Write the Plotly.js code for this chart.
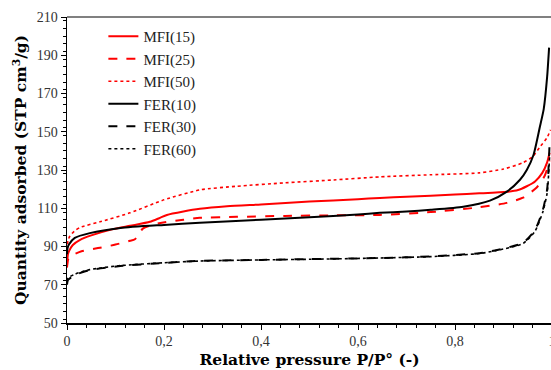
<!DOCTYPE html>
<html>
<head>
<meta charset="utf-8">
<script src="https://cdn.plot.ly/plotly-3.0.1.min.js"></script>
<style>html,body{margin:0;padding:0;overflow:hidden;background:#fff;}#chart{width:570px;height:370px;}</style>
</head>
<body>
<div id="chart"></div>
<script>
const seriesNames = ["MFI(15)", "MFI(25)", "MFI(50)", "FER(10)", "FER(30)", "FER(60)"];

const mfi15X = [0, 0.002, 0.005, 0.012, 0.027, 0.05, 0.089, 0.13, 0.171, 0.19, 0.206, 0.24, 0.274, 0.33, 0.4, 0.5, 0.6, 0.645, 0.7, 0.8, 0.85, 0.907, 0.93, 0.948, 0.965, 0.98, 0.99, 0.995];
const mfi15Y = [80, 86, 88, 90.8, 93.5, 95.8, 98.7, 100.8, 102.9, 104.8, 106.5, 108.3, 109.7, 111, 112, 113.5, 114.7, 115.4, 116, 117.2, 117.8, 118.6, 119.5, 121.5, 124, 128.5, 134, 139];

const mfi25X = [0, 0.002, 0.005, 0.012, 0.03, 0.068, 0.1, 0.13, 0.14, 0.157, 0.19, 0.24, 0.274, 0.35, 0.45, 0.55, 0.645, 0.75, 0.85, 0.907, 0.94, 0.969, 0.985, 0.995];
const mfi25Y = [79, 83, 84.5, 85.6, 87.5, 89.3, 91, 93, 93.8, 99.5, 102.2, 104, 105, 105.5, 106, 106.3, 106.5, 108, 110.5, 112.8, 115.5, 121, 127, 135];

const mfi50X = [0, 0.002, 0.006, 0.015, 0.027, 0.068, 0.13, 0.2, 0.274, 0.35, 0.45, 0.55, 0.645, 0.75, 0.85, 0.9, 0.94, 0.96, 0.975, 0.99, 0.997];
const mfi50Y = [88, 93, 95.5, 98, 100, 102.9, 107.6, 114.4, 119.6, 121.5, 123.3, 124.8, 126.4, 127.5, 128.5, 130.5, 133.8, 137, 142, 147, 151];

const fer10X = [0, 0.001, 0.004, 0.016, 0.047, 0.11, 0.2, 0.274, 0.4, 0.5, 0.6, 0.645, 0.7, 0.75, 0.817, 0.872, 0.907, 0.934, 0.948, 0.962, 0.975, 0.983, 0.99, 0.994];
const fer10Y = [86, 89, 91, 94.5, 97, 99.7, 101.3, 102.4, 104, 105.3, 106.7, 107.6, 108.3, 109.2, 110.8, 114, 118.7, 124.9, 130, 138, 152.6, 162, 178.8, 194];

const fer30X = [0, 0.002, 0.016, 0.047, 0.11, 0.2, 0.274, 0.4, 0.5, 0.645, 0.75, 0.85, 0.887, 0.94, 0.965, 0.981, 0.99, 0.995];
const fer30Y = [70, 72.5, 75, 77.7, 79.8, 81.4, 82.5, 83, 83.4, 84, 84.8, 86.5, 88.2, 91.9, 98.7, 109, 120, 144];

const fer60X = [0, 0.002, 0.016, 0.047, 0.11, 0.2, 0.274, 0.4, 0.5, 0.645, 0.75, 0.85, 0.887, 0.94, 0.965, 0.981, 0.99, 0.995];
const fer60Y = [72, 73.5, 75.5, 77.9, 80, 81.5, 82.4, 83, 83.3, 84, 84.7, 86.3, 88, 91.5, 98, 108, 118, 137];

const xs = [mfi15X, mfi25X, mfi50X, fer10X, fer30X, fer60X];
const ys = [mfi15Y, mfi25Y, mfi50Y, fer10Y, fer30Y, fer60Y];
const colors = ["#ff0000", "#ff0000", "#ff0000", "#000000", "#000000", "#000000"];
const dashes = ["solid", "dash", "dot", "solid", "dash", "dot"];
const widths = [2, 2, 1.6, 2, 2, 1.6];

const traces = seriesNames.map((n, i) => ({
  type: "scatter", mode: "lines", name: n,
  x: xs[i], y: ys[i],
  line: {color: colors[i], dash: dashes[i], width: widths[i], shape: "spline", smoothing: 0.6}
}));

const font = "Liberation Serif";
const titleFont = "DejaVu Serif";
const layout = {
  width: 570, height: 370,
  margin: {l: 67, r: 18, t: 17, b: 47},
  paper_bgcolor: "#fff", plot_bgcolor: "#fff",
  separators: ", ",
  font: {family: font, color: "#222", size: 14},
  showlegend: true,
  legend: {x: 0.075, y: 0.99, xanchor: "left", yanchor: "top", bgcolor: "rgba(0,0,0,0)",
           font: {family: font, size: 15, color: "#222"}, tracegroupgap: 0, itemwidth: 30},
  xaxis: {
    range: [0, 1], dtick: 0.2, tick0: 0, showgrid: false, zeroline: false,
    showline: true, linecolor: "#000", linewidth: 1.5,
    ticks: "outside", ticklen: 5, tickcolor: "#000", tickwidth: 1,
    minor: {dtick: 0.04, ticks: "outside", ticklen: 3, tickcolor: "#000"},
    tickfont: {family: font, size: 14, color: "#333"},
    title: {text: "Relative pressure P/P° (-)", font: {family: titleFont, size: 15.5, color: "#000", weight: "bold"}, standoff: 6}
  },
  yaxis: {
    range: [50, 210], dtick: 20, tick0: 50, showgrid: false, zeroline: false,
    showline: true, linecolor: "#000", linewidth: 1.5,
    ticks: "outside", ticklen: 5, tickcolor: "#000", tickwidth: 1,
    minor: {dtick: 4, ticks: "outside", ticklen: 3, tickcolor: "#000"},
    tickfont: {family: font, size: 14, color: "#333"},
    title: {text: "Quantity adsorbed (STP cm<sup>3</sup>/g)", font: {family: titleFont, size: 15.5, color: "#000", weight: "bold"}, standoff: 6}
  },
  shapes: [{type: "line", xref: "paper", yref: "paper", x0: 0, x1: 1, y0: 1, y1: 1, line: {color: "#808080", width: 2}}]
};

Plotly.newPlot("chart", traces, layout, {displayModeBar: false, staticPlot: true});
</script>
</body>
</html>
